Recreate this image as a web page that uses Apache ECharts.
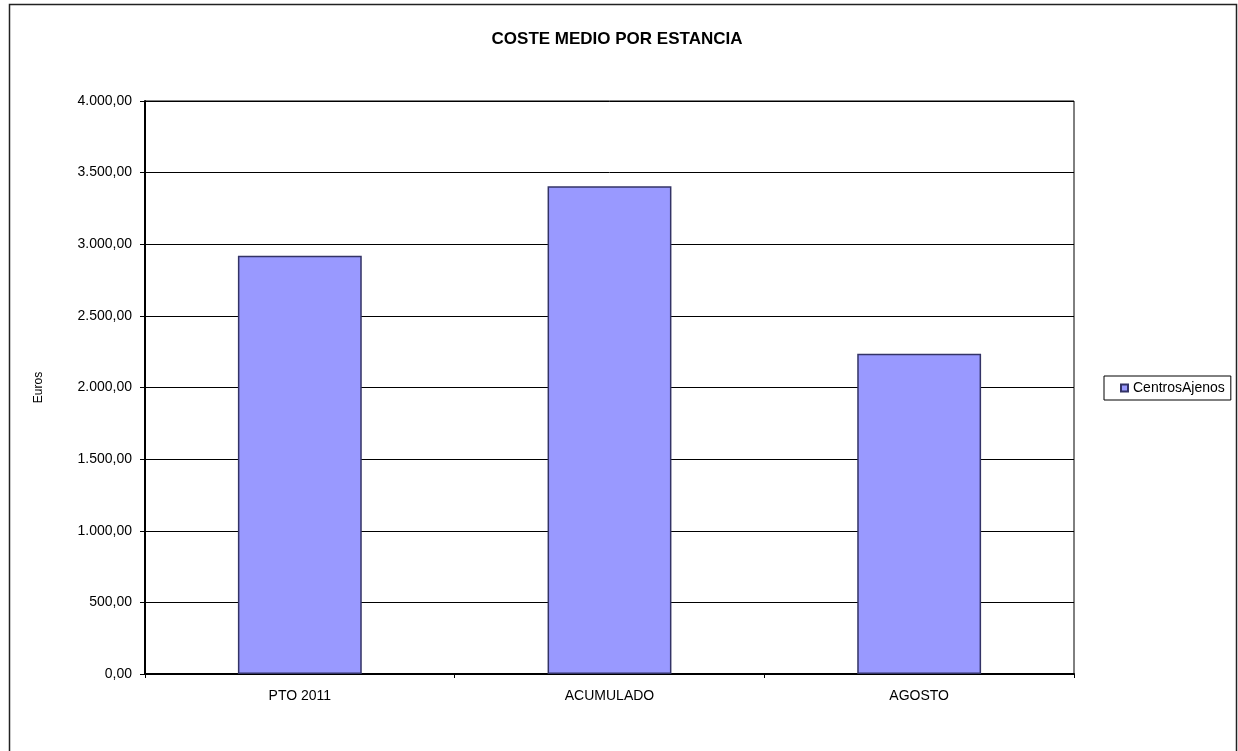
<!DOCTYPE html>
<html>
<head>
<meta charset="utf-8">
<script src="https://cdn.jsdelivr.net/npm/echarts@6/dist/echarts.min.js"></script>
<style>
html,body{margin:0;padding:0;background:#fff;}
#chart{width:1238px;height:751px;}
</style>
</head>
<body>
<div id="chart"></div>
<script>
var categories = ['PTO 2011', 'ACUMULADO', 'AGOSTO'];
var seriesName = 'CentrosAjenos';
var values = [2920, 3405, 2236];
var yMin = 0, yMax = 4000, yStep = 500;
var titleText = 'COSTE MEDIO POR ESTANCIA';
var yAxisName = 'Euros';

function fmtES(v) {
  var parts = Math.abs(v).toFixed(2).split('.');
  var intPart = parts[0].replace(/\B(?=(\d{3})+(?!\d))/g, '.');
  return (v < 0 ? '-' : '') + intPart + ',' + parts[1];
}

var FONT = '"Liberation Sans", Arial, sans-serif';
var chart = echarts.init(document.getElementById('chart'), null, {renderer: 'canvas'});
chart.setOption({
  backgroundColor: '#fff',
  animation: false,
  title: {
    text: titleText,
    left: 612, textAlign: 'center',
    top: 26,
    textStyle: {fontFamily: FONT, fontSize: 17, fontWeight: 'bold', color: '#000'}
  },
  legend: {
    data: [seriesName],
    left: 1104, top: 376,
    orient: 'vertical',
    borderColor: '#000', borderWidth: 1,
    padding: [5, 6, 5, 16],
    itemWidth: 7, itemHeight: 7,
    icon: 'rect',
    textStyle: {fontFamily: FONT, fontSize: 14, color: '#000'}
  },
  grid: {
    left: 145, right: 164, top: 101, bottom: 77,
    show: true, borderColor: '#000', borderWidth: 1, backgroundColor: 'transparent'
  },
  xAxis: {
    type: 'category',
    data: categories,
    boundaryGap: true,
    axisLine: {lineStyle: {color: '#000', width: 2}},
    axisTick: {show: true, alignWithLabel: false, length: 4, lineStyle: {color: '#000'}},
    axisLabel: {margin: 15, fontFamily: FONT, fontSize: 14, color: '#000'}
  },
  yAxis: {
    type: 'value',
    min: yMin, max: yMax, interval: yStep,
    name: yAxisName,
    nameLocation: 'middle',
    nameGap: 100,
    nameRotate: 90,
    nameTextStyle: {fontFamily: FONT, fontSize: 12, color: '#000'},
    axisLine: {show: true, lineStyle: {color: '#000', width: 2}},
    axisTick: {show: true, length: 5, lineStyle: {color: '#000'}},
    splitLine: {show: true, lineStyle: {color: '#000', width: 1}},
    axisLabel: {margin: 13, fontFamily: FONT, fontSize: 14, color: '#000', formatter: fmtES}
  },
  series: [{
    name: seriesName,
    type: 'bar',
    data: values,
    barWidth: '40%',
    itemStyle: {color: '#9999FF', borderColor: '#333366', borderWidth: 1.5}
  }],
  graphic: [{
    type: 'rect',
    shape: {x: 9.5, y: 4.5, width: 1227, height: 800},
    style: {fill: 'none', stroke: '#222', lineWidth: 1.5},
    silent: true
  }]
});
</script>
</body>
</html>
